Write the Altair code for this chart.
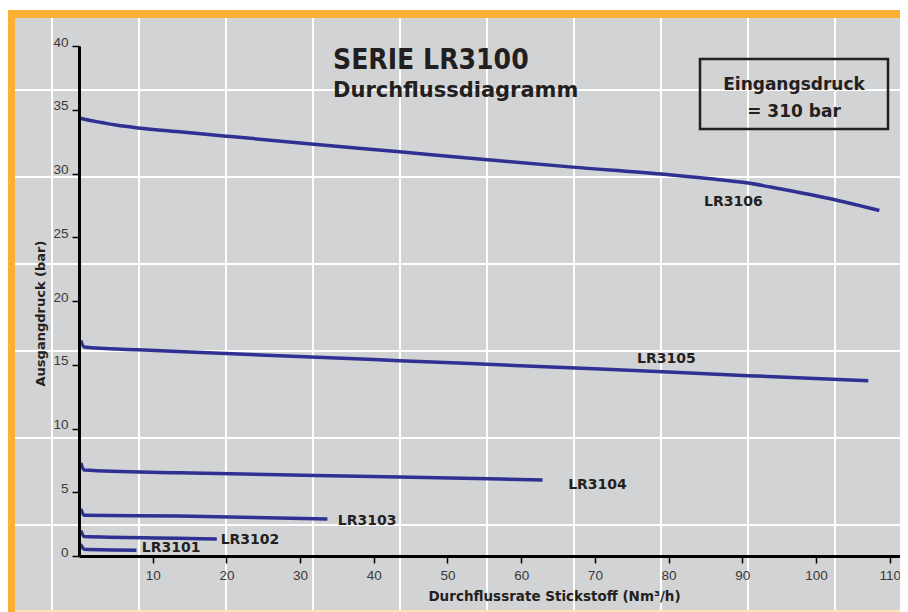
import altair as alt
import pandas as pd

# ---------------- data ----------------
X_TICKS = [10, 20, 30, 40, 50, 60, 70, 80, 90, 100, 110]
Y_TICKS = [0, 5, 10, 15, 20, 25, 30, 35, 40]

LR3106_X = [0, 1.5, 3, 5, 8, 14, 20, 30, 43.5, 55, 67, 79, 85, 90.8, 95.1, 100, 104, 108.6]
LR3106_Y = [34.35, 34.15, 34.0, 33.8, 33.57, 33.25, 32.93, 32.4, 31.7, 31.1, 30.5, 29.96, 29.62, 29.25, 28.8, 28.25, 27.75, 27.1]

LR3105_X = [0.25, 0.7, 8, 20, 43.5, 70.7, 90.8, 107.1]
LR3105_Y = [16.9, 16.4, 16.17, 15.88, 15.32, 14.67, 14.14, 13.75]

LR3104_X = [0.25, 0.7, 13.5, 43.5, 62.9]
LR3104_Y = [7.3, 6.75, 6.53, 6.2, 5.96]

LR3103_X = [0.25, 0.7, 13.5, 33.7]
LR3103_Y = [3.7, 3.2, 3.14, 2.9]

LR3102_X = [0.25, 0.7, 13.5, 18.7]
LR3102_Y = [2.0, 1.52, 1.39, 1.33]

LR3101_X = [0.0, 0.25, 0.7, 7.8]
LR3101_Y = [0.95, 0.86, 0.52, 0.45]

SERIES = ["LR3106", "LR3105", "LR3104", "LR3103", "LR3102", "LR3101"]
LABEL_X = [88.8, 79.7, 70.35, 39.1, 23.2, 12.5]
LABEL_Y = [27.76, 15.45, 5.57, 2.75, 1.29, 0.63]

TITLE = "SERIE LR3100"
SUBTITLE = "Durchflussdiagramm"
BOX_LINE1 = "Eingangsdruck"
BOX_LINE2 = "= 310 bar"
X_TITLE = "Durchflussrate Stickstoff (Nm³/h)"
Y_TITLE = "Ausgangdruck (bar)"

# ---------------- styles ----------------
NAVY = "#2e3191"
GRAY = "#d2d3d5"
ORANGE = "#fbb034"
DARK = "#231f20"
BOLD_FONT = "DejaVu Sans"
TICK_FONT = "Liberation Sans"

W, H = 821, 510
X_MAX = 111.4

rows = []
for name, xs, ys in [
    ("LR3106", LR3106_X, LR3106_Y),
    ("LR3105", LR3105_X, LR3105_Y),
    ("LR3104", LR3104_X, LR3104_Y),
    ("LR3103", LR3103_X, LR3103_Y),
    ("LR3102", LR3102_X, LR3102_Y),
    ("LR3101", LR3101_X, LR3101_Y),
]:
    for i, (x, y) in enumerate(zip(xs, ys)):
        rows.append({"series": name, "x": x, "y": y, "order": i})
df = pd.DataFrame(rows)
labels_df = pd.DataFrame({"name": SERIES, "x": LABEL_X, "y": LABEL_Y})
one = pd.DataFrame({"a": [0]})

x_scale = alt.Scale(domain=[0, X_MAX], nice=False, zero=False)
y_scale = alt.Scale(domain=[0, 40], nice=False, zero=False)


def rect(x, x2, y, y2, color):
    return alt.Chart(one).mark_rect(color=color).encode(
        x=alt.value(x), x2=alt.value(x2), y=alt.value(y), y2=alt.value(y2)
    )


layers = [
    rect(-64, W, -28, 566, GRAY),
    rect(-72, -64, -36, 566, ORANGE),
    rect(-72, W, -36, -28, ORANGE),
    rect(-64, W, 564, 566, "#fce3b0"),
]

for gx in [-27, 60, 147, 234, 321, 408, 495, 582, 669, 756]:
    layers.append(
        alt.Chart(one).mark_rule(color="white", strokeWidth=2).encode(
            x=alt.value(gx), y=alt.value(-28), y2=alt.value(564)
        )
    )
for gy in [44, 131, 218, 305, 392, 479]:
    layers.append(
        alt.Chart(one).mark_rule(color="white", strokeWidth=2).encode(
            y=alt.value(gy), x=alt.value(-64), x2=alt.value(W)
        )
    )

# info box
layers.append(
    alt.Chart(one).mark_rect(fill=None, fillOpacity=0, stroke=DARK, strokeWidth=2.5).encode(
        x=alt.value(621), x2=alt.value(809), y=alt.value(13), y2=alt.value(83)
    )
)
layers.append(
    alt.Chart(one).mark_text(text=BOX_LINE1, font=BOLD_FONT, fontWeight="bold", fontSize=17,
                             color=DARK, align="center", baseline="alphabetic").encode(
        x=alt.value(715), y=alt.value(44)
    )
)
layers.append(
    alt.Chart(one).mark_text(text=BOX_LINE2, font=BOLD_FONT, fontWeight="bold", fontSize=17,
                             color=DARK, align="center", baseline="alphabetic").encode(
        x=alt.value(715), y=alt.value(71)
    )
)

# titles
layers.append(
    alt.Chart(one).mark_text(text=TITLE, font="DejaVu Sans Condensed, DejaVu Sans", fontWeight="bold",
                             fontSize=28, color=DARK, align="left", baseline="alphabetic").encode(
        x=alt.value(254), y=alt.value(23)
    )
)
layers.append(
    alt.Chart(one).mark_text(text=SUBTITLE, font=BOLD_FONT, fontWeight="bold", fontSize=21,
                             color=DARK, align="left", baseline="alphabetic").encode(
        x=alt.value(254), y=alt.value(51)
    )
)

lines = alt.Chart(df).mark_line(color=NAVY, strokeWidth=3.5, interpolate="monotone", strokeCap="butt").encode(
    x=alt.X("x:Q", scale=x_scale, axis=alt.Axis(
        values=X_TICKS, grid=False, domainColor="black", domainWidth=3,
        tickColor="black", tickWidth=1.5, tickSize=7,
        labelFont=TICK_FONT, labelFontSize=13.5, labelColor="#3a3a3a", labelPadding=5,
        labelFlush=False,
        title=X_TITLE, titleFont=BOLD_FONT, titleFontWeight="bold", titleFontSize=13.5,
        titleColor=DARK, titleX=475, titleY=44, titleBaseline="alphabetic", titleAlign="center",
        zindex=1)),
    y=alt.Y("y:Q", scale=y_scale, axis=alt.Axis(
        values=Y_TICKS, grid=False, domainColor="black", domainWidth=3,
        tickColor="black", tickWidth=1.5, tickSize=7,
        labelFont=TICK_FONT, labelFontSize=13.5, labelColor="#3a3a3a", labelPadding=4,
        labelBaseline="alphabetic", labelAlign="right", labelFlush=False,
        title=Y_TITLE, titleFont=BOLD_FONT, titleFontWeight="bold", titleFontSize=13,
        titleColor=DARK, titleX=-35, titleY=267, titleAngle=270, titleBaseline="alphabetic",
        titleAlign="center", zindex=1)),
    detail="series:N",
    order="order:Q",
)
layers.append(lines)

layers.append(
    alt.Chart(labels_df).mark_text(font=BOLD_FONT, fontWeight="bold", fontSize=14, color=DARK,
                                   align="center", baseline="middle").encode(
        x=alt.X("x:Q", scale=x_scale),
        y=alt.Y("y:Q", scale=y_scale),
        text="name:N",
    )
)

chart = alt.layer(*layers).properties(
    width=W, height=H,
    autosize=alt.AutoSizeParams(type="none"),
    padding={"left": 71, "top": 38, "right": 0, "bottom": 56},
    background="white",
).configure_view(stroke=None)

chart.save("out.html", embed_options={"renderer": "svg", "actions": False})
